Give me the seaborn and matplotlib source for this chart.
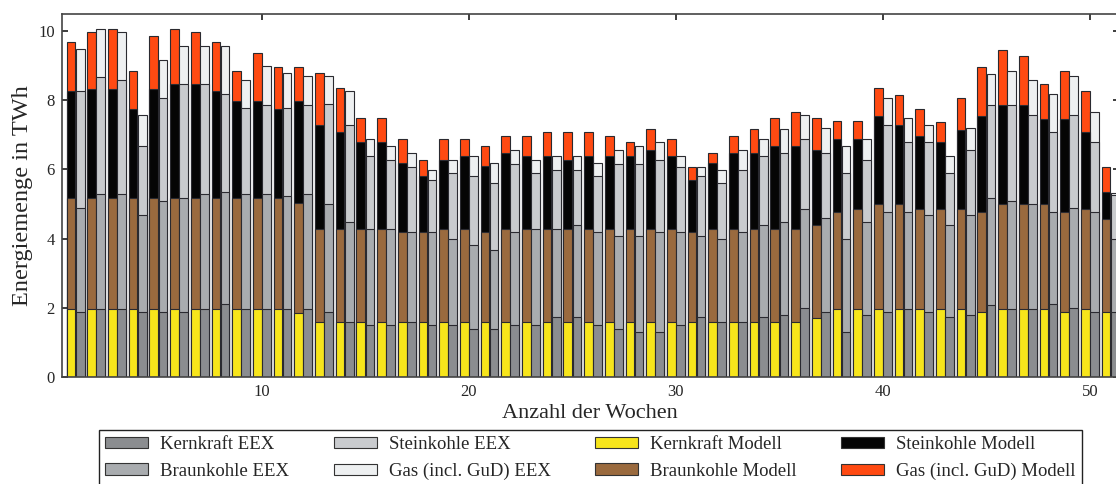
import pandas as pd
import matplotlib
matplotlib.use("Agg")
import matplotlib.pyplot as plt
import seaborn as sns
import numpy as np
from matplotlib.patches import Patch

# wochen
wochen = list(range(1, 52))

# Modell: energiemenge je quelle in TWh
kern_modell = [1.96] * 11 + [1.84] + [1.57] * 24 + [1.69, 1.96, 1.96, 1.96, 1.96, 1.96, 1.96, 1.96,
                                                    1.86, 1.96, 1.96, 1.96, 1.86, 1.96, 1.86]
braun_modell = [3.21] * 11 + [3.18, 2.71, 2.71, 2.71, 2.71, 2.61, 2.61, 2.71, 2.71, 2.61,
                              2.71, 2.71, 2.71, 2.71, 2.71, 2.71, 2.71, 2.71, 2.71, 2.61,
                              2.71, 2.71, 2.71, 2.71, 2.71, 2.69, 2.80, 2.90, 3.04, 3.04,
                              2.90, 2.90, 2.90, 2.92, 3.04, 3.04, 3.04, 2.90, 2.90, 2.71]
stein_modell = [3.09, 3.17, 3.17, 2.58, 3.17, 3.31, 3.31, 3.09, 2.80, 2.80,
                2.58, 2.95, 3.01, 2.79, 2.51, 2.51, 2.00, 1.62, 2.00, 2.12,
                1.91, 2.21, 2.12, 2.12, 2.00, 2.12, 2.12, 2.12, 2.29, 2.12,
                1.50, 1.90, 2.21, 2.21, 2.39, 2.39, 2.19, 2.12, 2.02, 2.56,
                2.29, 2.12, 1.93, 2.29, 2.78, 2.87, 2.87, 2.47, 2.70, 2.21, 0.79]
gas_modell = [1.43, 1.63, 1.73, 1.11, 1.53, 1.59, 1.49, 1.42, 0.89, 1.40,
              1.21, 0.99, 1.50, 1.29, 0.70, 0.70, 0.71, 0.48, 0.61, 0.49,
              0.58, 0.49, 0.58, 0.67, 0.79, 0.67, 0.58, 0.39, 0.60, 0.48,
              0.39, 0.31, 0.49, 0.68, 0.82, 0.98, 0.92, 0.51, 0.51, 0.80,
              0.87, 0.78, 0.58, 0.92, 1.40, 1.60, 1.41, 1.00, 1.40, 1.21, 0.71]

# EEX: energiemenge je quelle in TWh
kern_eex = [1.88, 1.96, 1.96, 1.86, 1.86, 1.86, 1.96, 2.10, 1.96, 1.96,
            1.96, 1.96, 1.86, 1.59, 1.50, 1.50, 1.59, 1.50, 1.50, 1.37,
            1.37, 1.50, 1.50, 1.74, 1.74, 1.50, 1.37, 1.30, 1.29, 1.50,
            1.74, 1.59, 1.59, 1.74, 1.79, 2.00, 1.86, 1.30, 1.79, 1.86,
            1.96, 1.86, 1.74, 1.79, 2.08, 1.96, 1.96, 2.10, 2.00, 1.86, 1.86]
braun_eex = [3.00, 3.33, 3.33, 2.83, 3.23, 3.31, 3.33, 3.26, 3.33, 3.33,
             3.26, 3.33, 3.14, 2.90, 2.78, 2.78, 2.59, 2.68, 2.49, 2.45,
             2.30, 2.68, 2.78, 2.54, 2.66, 2.68, 2.71, 2.78, 2.89, 2.68,
             2.34, 2.40, 2.59, 2.66, 2.70, 2.86, 2.73, 2.69, 2.70, 2.90,
             2.80, 2.83, 2.66, 2.90, 3.09, 3.13, 3.04, 2.68, 2.88, 2.92, 2.13]
stein_eex = [3.40, 3.38, 3.31, 1.98, 2.98, 3.31, 3.19, 2.82, 2.49, 2.58,
             2.56, 2.58, 2.89, 2.80, 2.12, 2.00, 1.89, 1.52, 1.90, 1.98,
             1.93, 1.98, 1.61, 1.71, 1.57, 1.62, 2.08, 2.08, 2.10, 1.89,
             1.72, 1.61, 1.79, 2.00, 1.98, 2.03, 1.88, 1.90, 1.79, 2.53,
             2.03, 2.10, 1.49, 1.88, 2.70, 2.78, 2.58, 2.29, 2.70, 2.01, 1.26]
gas_eex = [1.21, 1.40, 1.37, 0.91, 1.11, 1.09, 1.09, 1.39, 0.82, 1.12,
           1.01, 0.83, 0.81, 0.99, 0.49, 0.39, 0.40, 0.27, 0.39, 0.60,
           0.58, 0.41, 0.39, 0.41, 0.43, 0.38, 0.41, 0.51, 0.51, 0.33,
           0.27, 0.37, 0.60, 0.49, 0.70, 0.69, 0.73, 0.78, 0.61, 0.78,
           0.70, 0.50, 0.51, 0.63, 0.89, 0.99, 1.02, 1.11, 1.12, 0.87, 0.08]

quellen = ['Kernkraft', 'Braunkohle', 'Steinkohle', 'Gas (incl. GuD)']
farben_modell = ['#f7e51b', '#9a6a3e', '#050505', '#ff4a12']
farben_eex = ['#8b8d90', '#a9acaf', '#c9cbce', '#eef0f1']

modell = [kern_modell, braun_modell, stein_modell, gas_modell]
eex = [kern_eex, braun_eex, stein_eex, gas_eex]

sns.set_theme(style='ticks')
plt.rcParams['font.family'] = ['Liberation Serif', 'DejaVu Serif']

fig = plt.figure(figsize=(11.16, 4.84), dpi=100)
ax = fig.add_axes([0.0553, 0.2217, 0.9474, 0.7494])

# gestapelte balken: kumulierte summen von oben nach unten zeichnen
cum_modell = np.cumsum(np.array(modell), axis=0)
cum_eex = np.cumsum(np.array(eex), axis=0)
for i in reversed(range(4)):
    df_layer = pd.DataFrame({
        'woche': wochen + wochen,
        'wert': list(cum_modell[i]) + list(cum_eex[i]),
        'quelle': ['Modell'] * len(wochen) + ['EEX'] * len(wochen),
    })
    sns.barplot(data=df_layer, x='woche', y='wert', hue='quelle',
                hue_order=['Modell', 'EEX'],
                palette={'Modell': farben_modell[i], 'EEX': farben_eex[i]},
                native_scale=True, width=0.88, gap=0.04, dodge=True,
                errorbar=None, saturation=1, edgecolor='#2a2a30', linewidth=0.8,
                legend=False, ax=ax)

ax.set_xlim(0.33, 51.41)
ax.set_ylim(0, 10.5)
ax.set_xticks([10, 20, 30, 40, 50])
ax.set_yticks([0, 2, 4, 6, 8, 10])
ax.tick_params(direction='in', top=True, right=True, length=4, labelsize=12, pad=5)
for sp in ax.spines.values():
    sp.set_visible(True)
    sp.set_color('#444444')
    sp.set_linewidth(1.2)
ax.set_xlabel('Anzahl der Wochen', fontsize=16, labelpad=3)
ax.set_ylabel('Energiemenge in TWh', fontsize=17.5, labelpad=4)

# legende
handles = []
labels = []
for farben, name in [(farben_eex, 'EEX'), (farben_modell, 'Modell')]:
    for q, c in zip(quellen, farben):
        handles.append(Patch(facecolor=c, edgecolor='#333333', linewidth=0.8))
        labels.append(f'{q} {name}')
leg = fig.legend(handles, labels, ncol=4, loc='upper center',
                 bbox_to_anchor=(0.529, 0.112), fontsize=13.5, frameon=True,
                 fancybox=False, edgecolor='#222222', framealpha=1,
                 handlelength=2.3, handleheight=0.55, handletextpad=0.65,
                 columnspacing=2.35, labelspacing=0.5, borderpad=0.35,
                 borderaxespad=0)
leg.get_frame().set_linewidth(1.0)

fig.savefig('out.png', dpi=100)
